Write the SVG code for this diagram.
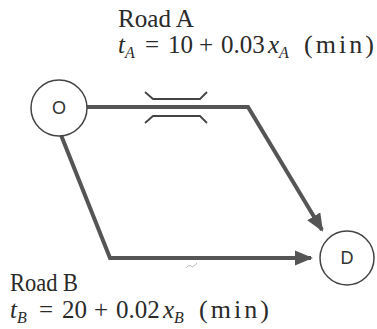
<svg xmlns="http://www.w3.org/2000/svg" width="377" height="329" viewBox="0 0 377 329">
<style>
.node circle{fill:#fff;stroke:#444;stroke-width:1.5}
.node text{font-family:"Liberation Sans",Arial,sans-serif;font-size:18px;fill:#333;text-anchor:middle;dominant-baseline:central}
.road{fill:none;stroke:#555;stroke-width:4;stroke-linejoin:miter}
.bridge{fill:none;stroke:#444;stroke-width:1.8}
.lbl{font-family:"Liberation Serif","DejaVu Serif",serif;font-size:25px;fill:#2a2a2a}
.it{font-style:italic}
.sub{font-style:italic;font-size:16px}
.mn{font-size:26px}
</style>
<defs>
<marker id="arr" markerWidth="4.5" markerHeight="3.8" refX="4" refY="1.9" orient="auto" markerUnits="strokeWidth">
<path d="M0,0 L4.5,1.9 L0,3.8 Z" fill="#555"/>
</marker>
</defs>
<rect width="377" height="329" fill="#fff"/>
<g id="connectors">
<path id="roadA" class="road" d="M87,107 L248,107 L322,230" marker-end="url(#arr)"/>
<path id="roadB" class="road" d="M61,135 L110,258 L311,258" marker-end="url(#arr)"/>
<g id="bridge">
<path class="bridge" d="M145,92 L153,99 L200,99 L207,92"/>
<path class="bridge" d="M145,123 L153,116 L200,116 L207,123"/>
</g>
<path d="M186,268 q3,-4 5,-2 t6,-3" fill="none" stroke="#aaa" stroke-width="0.8"/>
</g>
<g id="O" class="node">
<circle cx="59" cy="108" r="28"/>
<text x="59" y="108">O</text>
</g>
<g id="D" class="node">
<circle cx="347" cy="258" r="27"/>
<text x="347" y="258">D</text>
</g>
<g id="labelA">
<text class="lbl" x="118" y="27" textLength="76" lengthAdjust="spacingAndGlyphs">Road A</text>
<text class="lbl" y="53"><tspan class="it" x="118">t</tspan><tspan class="sub" dy="5">A</tspan><tspan dy="-5" x="145">=</tspan><tspan x="168">10</tspan><tspan x="199">+</tspan><tspan x="221">0.03</tspan><tspan class="it" x="268">x</tspan><tspan class="sub" dy="5">A</tspan></text>
<text class="lbl mn" x="304" y="53" textLength="70" lengthAdjust="spacing">(min)</text>
</g>
<g id="labelB">
<text class="lbl" x="10" y="291" textLength="68" lengthAdjust="spacingAndGlyphs">Road B</text>
<text class="lbl" y="318"><tspan class="it" x="10">t</tspan><tspan class="sub" dy="5">B</tspan><tspan dy="-5" x="39">=</tspan><tspan x="62">20</tspan><tspan x="94">+</tspan><tspan x="116">0.02</tspan><tspan class="it" x="163">x</tspan><tspan class="sub" dy="5">B</tspan></text>
<text class="lbl mn" x="199" y="318" textLength="70" lengthAdjust="spacing">(min)</text>
</g>
</svg>
